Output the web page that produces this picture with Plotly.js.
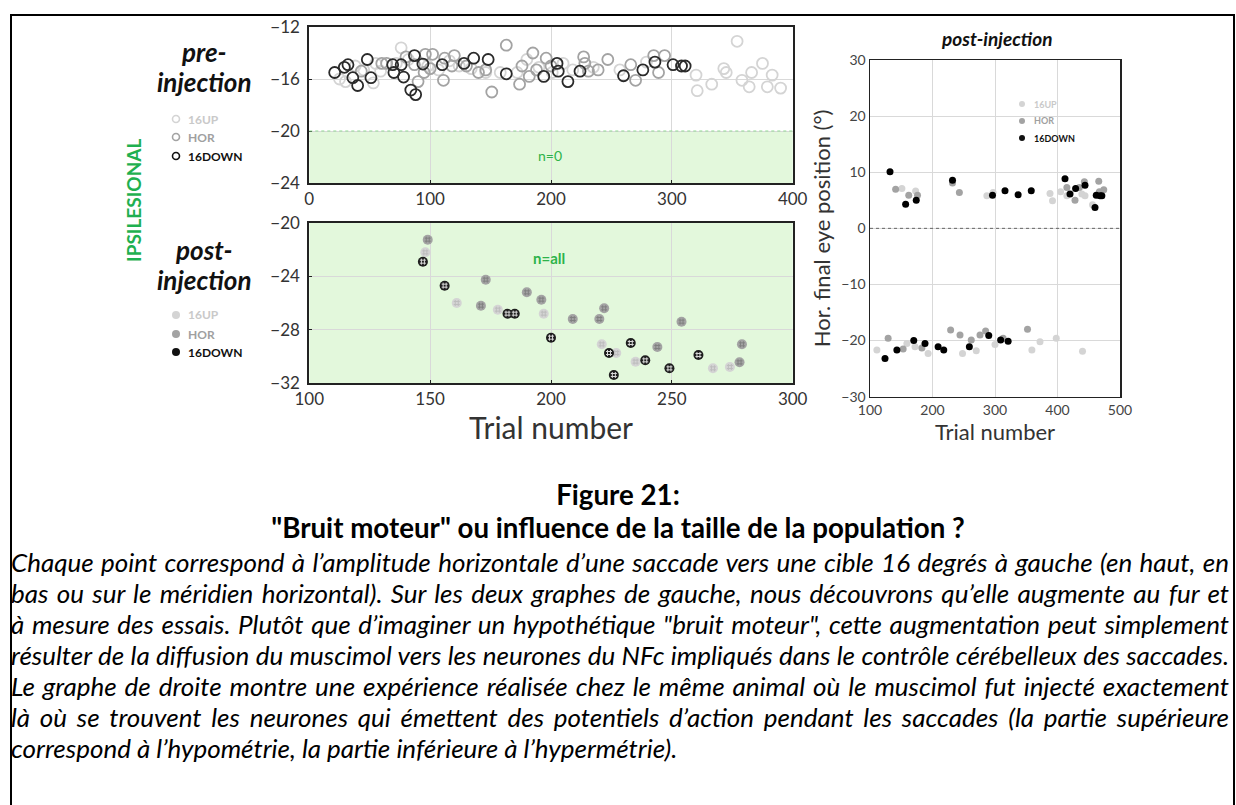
<!DOCTYPE html>
<html>
<head>
<meta charset="utf-8">
<script src="https://cdn.plot.ly/plotly-3.0.1.min.js"></script>
<style>
  html, body { margin:0; padding:0; background:#fff; }
  #wrap { position:relative; width:1236px; height:805px; overflow:hidden; }
  #chart { position:absolute; left:0; top:0; width:1236px; height:805px; }
  #frame { position:absolute; left:10px; top:14px; width:1221px; height:800px; border:2px solid #000; pointer-events:none; }
  .cap { position:absolute; font-family:Lato, 'Open Sans', sans-serif; color:#000; white-space:nowrap; }
  .ttl { left:0; width:1236px; text-align:center; font-weight:bold; line-height:30px; height:30px; }
  .par { left:11px; width:1218px; font-style:italic; text-align:justify; text-align-last:justify; line-height:31px; height:31px; }
  .par.last { text-align-last:left; }
</style>
</head>
<body>
<div id="wrap">
  <div id="chart"></div>
  <div id="frame"></div>
  <div id="caption"></div>
</div>
<script>
// ---------- data: pre-injection (top left) ----------
const preDownX = [21, 29, 32, 36, 40, 48, 51, 69, 70, 76, 78, 84, 88, 87, 94, 110, 128, 136, 148, 163, 194, 205, 206, 214, 224, 260, 276, 286, 301, 308, 311];
const preDownY = [-15.5, -15.1, -14.9, -15.9, -16.5, -14.5, -15.9, -14.9, -15.5, -14.9, -15.85, -16.85, -17.2, -14.2, -14.85, -14.9, -14.8, -14.4, -14.5, -15.6, -15.8, -14.8, -15.4, -16.2, -15.4, -15.75, -15.3, -14.7, -14.9, -15.0, -15.0];
const preHorX = [43, 60, 64, 80, 87, 90, 95, 96, 102, 111, 112, 120, 130, 140, 146, 151, 163, 174, 176, 182, 185, 188, 196, 200, 227, 228, 231, 239, 247, 266, 270, 285, 289, 294, 100, 118];
const preHorY = [-15.4, -14.8, -14.8, -14.3, -14.9, -16.2, -15.5, -14.1, -14.1, -16.1, -14.4, -14.2, -15.0, -15.5, -15.3, -17.0, -13.4, -16.4, -15.0, -15.8, -14.0, -15.3, -14.4, -15.0, -14.3, -14.8, -15.4, -15.3, -14.5, -14.9, -16.1, -14.2, -15.5, -14.2, -15.2, -15.0];
const preUpX = [25, 30, 38, 45, 53, 55, 59, 72, 76, 82, 98, 107, 116, 124, 134, 146, 158, 172, 180, 190, 201, 210, 218, 235, 257, 279, 320, 321, 333, 343, 345, 354, 358, 364, 366, 375, 379, 383, 390];
const preUpY = [-16.0, -16.2, -15.0, -15.3, -16.3, -14.8, -15.4, -14.8, -13.6, -14.5, -15.0, -15.3, -14.6, -15.0, -15.2, -15.5, -15.5, -15.5, -14.5, -15.1, -15.5, -14.8, -15.3, -15.1, -15.3, -14.7, -15.7, -16.9, -16.4, -15.2, -15.5, -13.1, -16.1, -16.6, -15.5, -14.8, -16.6, -15.7, -16.7];

// ---------- data: post-injection (bottom left) ----------
const postDownX = [147, 156, 182, 185, 200, 224, 226, 233, 239, 249, 261];
const postDownY = [-22.9, -24.7, -26.8, -26.8, -28.6, -29.75, -31.4, -29.0, -30.3, -30.9, -29.9];
const postHorX = [149, 173, 171, 190, 196, 209, 220, 222, 244, 254, 278, 279];
const postHorY = [-21.25, -24.25, -26.2, -25.2, -25.75, -27.2, -27.2, -26.4, -29.3, -27.4, -30.45, -29.1];
const postUpX = [148, 161, 178, 197, 221, 227, 235, 267, 274];
const postUpY = [-22.2, -26.0, -26.5, -26.8, -29.1, -29.75, -30.4, -30.9, -30.8];

// ---------- data: right panel ----------
const rDownX = [132, 157, 174, 232, 296, 316, 337, 358, 412, 420, 429, 444, 460, 462, 468, 471, 124, 143, 170, 188, 209, 218, 259, 290, 309, 321];
const rDownY = [10.1, 4.3, 5.0, 8.55, 5.9, 6.7, 6.0, 6.7, 8.85, 6.1, 7.1, 7.7, 3.7, 5.9, 5.8, 5.8, -23.2, -21.7, -20.0, -20.5, -21.1, -21.7, -21.1, -19.1, -19.9, -20.1];
const rHorX = [141, 162, 176, 232, 243, 415, 428, 435, 443, 466, 467, 474, 129, 153, 183, 229, 244, 262, 276, 285, 313, 352];
const rHorY = [6.95, 5.9, 5.9, 8.1, 6.4, 7.3, 5.0, 7.3, 8.3, 8.4, 6.5, 6.9, -19.6, -21.5, -21.3, -18.1, -19.0, -19.9, -19.0, -18.3, -19.6, -18.0];
const rUpX = [151, 173, 287, 297, 388, 392, 405, 415, 439, 444, 456, 111, 159, 172, 193, 248, 270, 300, 359, 372, 398, 440];
const rUpY = [7.1, 6.65, 5.8, 6.4, 6.2, 4.9, 6.5, 5.8, 6.1, 5.8, 4.2, -21.7, -20.5, -21.1, -22.3, -22.3, -21.8, -20.7, -21.7, -20.2, -19.6, -21.9];

// ---------- labels ----------
const seriesNames = ['16UP', 'HOR', '16DOWN'];
const topTicksX = [0, 100, 200, 300, 400];
const topTicksY = [-24, -20, -16, -12];
const botTicksX = [100, 150, 200, 250, 300];
const botTicksY = [-32, -28, -24, -20];
const rTicksX = [100, 200, 300, 400, 500];
const rTicksY = [-30, -20, -10, 0, 10, 20, 30];

const captionTitle = ['Figure 21:', '"Bruit moteur" ou influence de la taille de la population ?'];
const captionLines = [
  'Chaque point correspond à l’amplitude horizontale d’une saccade vers une cible 16 degrés à gauche (en haut, en',
  'bas ou sur le méridien horizontal). Sur les deux graphes de gauche, nous découvrons qu’elle augmente au fur et',
  'à mesure des essais. Plutôt que d’imaginer un hypothétique "bruit moteur", cette augmentation peut simplement',
  'résulter de la diffusion du muscimol vers les neurones du NFc impliqués dans le contrôle cérébelleux des saccades.',
  'Le graphe de droite montre une expérience réalisée chez le même animal où le muscimol fut injecté exactement',
  'là où se trouvent les neurones qui émettent des potentiels d’action pendant les saccades (la partie supérieure',
  'correspond à l’hypométrie, la partie inférieure à l’hypermétrie).'
];

// ---------- styling ----------
const W = 1236, H = 805;
const px = v => v / W;
const py = v => 1 - v / H;
const cUp = '#d4d4d4', cHor = '#a3a3a3', cDown = '#1e1e1e';
const FONT = 'Lato, "Open Sans", sans-serif';

const traces = [];
// top: open circles
[[preUpX, preUpY, cUp], [preHorX, preHorY, cHor], [preDownX, preDownY, '#2a2a2a']].forEach(([x, y, c]) => {
  traces.push({x, y, xaxis:'x', yaxis:'y', type:'scatter', mode:'markers', hoverinfo:'skip',
    marker:{symbol:'circle-open', size:11, line:{color:c, width:1.8}, color:c}});
});
// bottom: filled circles with hash
[[postUpX, postUpY, cUp, '#bdbdbd'], [postHorX, postHorY, cHor, '#808080'], [postDownX, postDownY, cDown, '#d9d9d9']].forEach(([x, y, c, hc]) => {
  traces.push({x, y, xaxis:'x2', yaxis:'y2', type:'scatter', mode:'markers', hoverinfo:'skip',
    marker:{symbol:'circle', size:10, color:c, line:{width:0}}});
  traces.push({x, y, xaxis:'x2', yaxis:'y2', type:'scatter', mode:'markers', hoverinfo:'skip',
    marker:{symbol:'hash', size:6, color:hc, line:{color:hc, width:1}}});
});
// right: filled dots
[[rUpX, rUpY, cUp], [rHorX, rHorY, cHor], [rDownX, rDownY, '#000']].forEach(([x, y, c]) => {
  traces.push({x, y, xaxis:'x3', yaxis:'y3', type:'scatter', mode:'markers', hoverinfo:'skip',
    marker:{symbol:'circle', size:7, color:c, line:{width:0}}});
});

const axBase = {showgrid:true, gridcolor:'#d9d9d9', gridwidth:1, zeroline:false, showline:true, mirror:true,
  linecolor:'#222', linewidth:2, ticks:'inside', ticklen:3, tickcolor:'#222', fixedrange:true,
  tickfont:{family:FONT, size:17, color:'#333'}};

const layout = {
  width:W, height:H, margin:{l:0, r:0, t:0, b:0}, showlegend:false,
  paper_bgcolor:'#fff', plot_bgcolor:'rgba(0,0,0,0)', font:{family:FONT},
  xaxis: Object.assign({}, axBase, {domain:[px(309.3), px(792.7)], range:[0, 400], tickvals:topTicksX, anchor:'y'}),
  yaxis: Object.assign({}, axBase, {domain:[py(183), py(27)], range:[-24, -12], tickvals:topTicksY, anchor:'x', ticklabelstandoff:4}),
  xaxis2: Object.assign({}, axBase, {domain:[px(309.3), px(792.7)], range:[100, 300], tickvals:botTicksX, anchor:'y2',
    title:{text:'Trial number', font:{family:FONT, size:30, color:'#333'}, standoff:4}}),
  yaxis2: Object.assign({}, axBase, {domain:[py(383), py(223)], range:[-32, -20], tickvals:botTicksY, anchor:'x2', ticklabelstandoff:4}),
  xaxis3: Object.assign({}, axBase, {domain:[px(870), px(1120)], range:[100, 500], tickvals:rTicksX, anchor:'y3',
    linewidth:1.5, ticklen:0, tickfont:{family:FONT, size:14, color:'#444'},
    title:{text:'Trial number', font:{family:FONT, size:22, color:'#333'}, standoff:6}}),
  yaxis3: Object.assign({}, axBase, {domain:[py(396.7), py(60)], range:[-30, 30], tickvals:rTicksY, anchor:'x3',
    linewidth:1.5, ticklen:0, tickfont:{family:FONT, size:14, color:'#444'},
    title:{text:'Hor. final eye position (°)', font:{family:FONT, size:22, color:'#333'}, standoff:4}}),
  shapes: [
    {type:'rect', xref:'x domain', yref:'y', x0:0, x1:1, y0:-24, y1:-20, fillcolor:'#e3f8dc', line:{width:0}, layer:'below'},
    {type:'line', xref:'x domain', yref:'y', x0:0, x1:1, y0:-20, y1:-20, line:{color:'#8fdc8f', width:1.2, dash:'dot'}},
    {type:'rect', xref:'x2 domain', yref:'y2 domain', x0:0, x1:1, y0:0, y1:1, fillcolor:'#e3f8dc', line:{width:0}, layer:'below'},
    {type:'line', xref:'x3 domain', yref:'y3', x0:0, x1:1, y0:0, y1:0, line:{color:'#666', width:1, dash:'dot'}}
  ],
  annotations: []
};

const ann = layout.annotations;
function txt(x, y, text, size, color, extra) {
  ann.push(Object.assign({xref:'paper', yref:'paper', x:px(x), y:py(y), text, showarrow:false,
    xanchor:'center', yanchor:'middle', font:{family:FONT, size, color}}, extra || {}));
}
ann.push({xref:'x', yref:'y', x:199, y:-21.9, text:'n=0', showarrow:false, xanchor:'center', yanchor:'middle', font:{family:FONT, size:14, color:'#2db34a'}});
ann.push({xref:'x2', yref:'y2', x:199, y:-22.6, text:'<b>n=all</b>', showarrow:false, xanchor:'center', yanchor:'middle', font:{family:FONT, size:15, color:'#2db34a'}});
txt(996, 39, '<b><i>post-injection</i></b>', 19, '#111');
txt(204, 52, '<b><i>pre-</i></b>', 26, '#111');
txt(204, 82, '<b><i>injection</i></b>', 26, '#111');
txt(204, 250, '<b><i>post-</i></b>', 26, '#111');
txt(204, 280, '<b><i>injection</i></b>', 26, '#111');
txt(133, 201, '<b>IPSILESIONAL</b>', 19, '#1fb050', {textangle:-90});

// legends
const legCols = [cUp, cHor, '#111'];
const legTxt = ['#c9c9c9', '#a0a0a0', '#111'];
function legend(x0, ys, open, size, fsize) {
  ys.forEach((yy, i) => {
    const r = size / 2;
    layout.shapes.push({type:'circle', xref:'paper', yref:'paper', xsizemode:'pixel', ysizemode:'pixel',
      xanchor:px(x0), yanchor:py(yy), x0:-r, x1:r, y0:-r, y1:r,
      fillcolor: open ? 'rgba(0,0,0,0)' : legCols[i], line:{color:legCols[i], width: open ? 1.6 : 0}});
    txt(x0 + 10, yy, '<b>' + seriesNames[i] + '</b>', fsize, legTxt[i], {xanchor:'left'});
  });
}
legend(176, [119, 137, 156], true, 7, 12);
legend(176, [315, 334, 352], false, 8, 12);
legend(1022, [104, 121, 138], false, 6, 9);

Plotly.newPlot('chart', traces, layout, {displayModeBar:false, staticPlot:true});

// caption: fit sizes by measurement
const canvas = document.createElement('canvas');
const ctx = canvas.getContext('2d');
function measure(text, font) { ctx.font = font; return ctx.measureText(text).width; }
const FAM = 'Lato, "Open Sans", sans-serif';
let parSize = 40;
captionLines.slice(0, -1).forEach(t => {
  const w = measure(t, 'italic 100px ' + FAM);
  parSize = Math.min(parSize, 1214 / w * 100);
});
const ttlSize = Math.min(30, 694 / measure(captionTitle[1], 'bold 100px ' + FAM) * 100);

const cap = document.getElementById('caption');
const titleY = [495, 528];
captionTitle.forEach((t, i) => {
  const d = document.createElement('div');
  d.className = 'cap ttl'; d.style.top = (titleY[i] - 15) + 'px'; d.style.fontSize = ttlSize + 'px';
  d.textContent = t; cap.appendChild(d);
});
captionLines.forEach((t, i) => {
  const d = document.createElement('div');
  d.className = 'cap par' + (i === captionLines.length - 1 ? ' last' : '');
  d.style.top = (562 + i * 31 - 15.5) + 'px'; d.style.fontSize = parSize + 'px';
  d.textContent = t; cap.appendChild(d);
});
</script>
</body>
</html>
